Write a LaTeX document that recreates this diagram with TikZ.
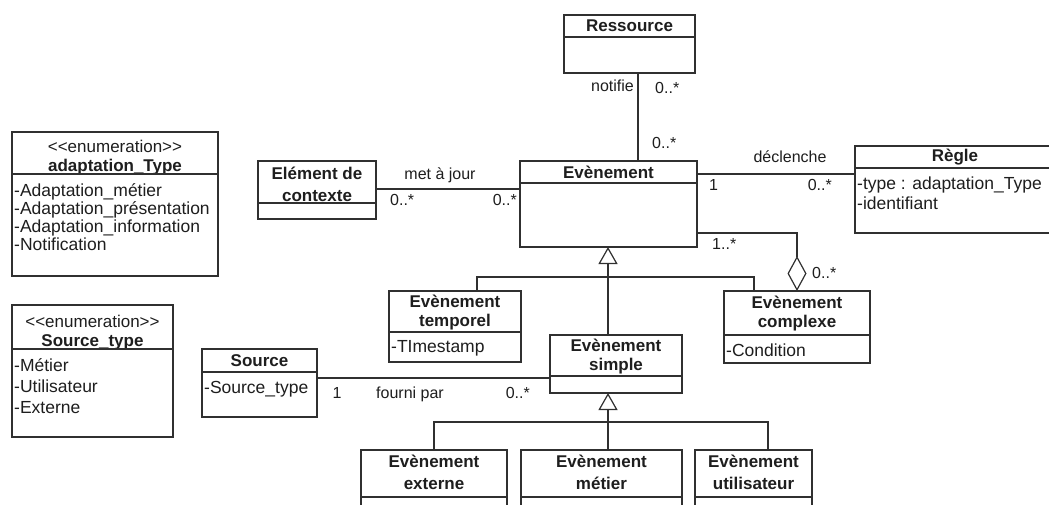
\documentclass[tikz,border=0pt]{standalone}
\usepackage{fontspec}
\setmainfont{Liberation Sans}
\usepackage{xcolor}
\definecolor{umlink}{HTML}{1E1E1E}
\definecolor{umlline}{HTML}{303030}
\usepackage{tikz}
\usetikzlibrary{positioning,arrows.meta}

\begin{document}
\begin{tikzpicture}[x=1pt, y=-1pt,
  every node/.style={text=umlink},
  clshead/.style={rectangle, draw=umlline, line width=1.2pt, outer sep=0pt, inner sep=0pt,
                  anchor=north west, align=center, font=\fontsize{17}{22}\selectfont\bfseries},
  clsbody/.style={rectangle, draw=umlline, line width=1.2pt, outer sep=0pt, inner sep=0pt},
  clsname/.style={inner sep=0pt, align=center, font=\fontsize{17}{19}\selectfont\bfseries},
  leafname/.style={clsname, font=\fontsize{17}{22}\selectfont\bfseries},
  enumname/.style={clsname, font=\fontsize{17}{19}\selectfont\bfseries},
  attr/.style={align=left, inner sep=0pt, font=\fontsize{17.5}{18}\selectfont},
  mult/.style={inner sep=0pt, text height=12pt, text depth=0pt, font=\fontsize{16}{18}\selectfont},
  link/.style={draw=umlline, line width=1.2pt},
  inherit/.style={link, -{Triangle[open, width=19pt, length=17pt]}},
  aggreg/.style={link, -{Diamond[open, width=19pt, length=35pt]}}
]
\clip (0,0) rectangle (1049,505);
\fill[white] (0,0) rectangle (1049,505);

\node[clshead, minimum width=206pt, minimum height=42pt] (atyhead) at (12,132) {};
\node[enumname, below=7.5pt of atyhead.north] (atyname)
  {{\mdseries<\kern0pt<enumeration>\kern0pt>}\\adaptation\_Type};
\node[clsbody, minimum width=206pt, minimum height=102pt, below=0pt of atyhead] (atybody) {};
\node[attr, below right=9pt and 2pt of atybody.north west] (atyattr)
  {-Adaptation\_métier\\-Adaptation\_présentation\\-Adaptation\_information\\-Notification};

\node[clshead, minimum width=161pt, minimum height=44pt] (stphead) at (12,305) {};
\node[enumname, below=10pt of stphead.north] (stpname)
  {{\mdseries<\kern0pt<enumeration>\kern0pt>}\\Source\_type};
\node[clsbody, minimum width=161pt, minimum height=88pt, below=0pt of stphead] (stpbody) {};
\node[attr, font=\fontsize{17.5}{21}\selectfont, below right=9pt and 2pt of stpbody.north west] (stpattr)
  {-Métier\\-Utilisateur\\-Externe};

\node[clshead, minimum width=131pt, minimum height=22pt] (reshead) at (564,15) {Ressource};
\node[clsbody, minimum width=131pt, minimum height=36pt, below=0pt of reshead] (resbody) {};

\node[clshead, minimum width=177pt, minimum height=22pt] (evhead) at (520,161) {Evènement};
\node[clsbody, minimum width=177pt, minimum height=64pt, below=0pt of evhead] (evbody) {};

\node[clshead, minimum width=118pt, minimum height=42pt] (ctxhead) at (258,161) {};
\node[leafname, below=5.5pt of ctxhead.north] (ctxname) {Elément de\\contexte};
\node[clsbody, minimum width=118pt, minimum height=16pt, below=0pt of ctxhead] (ctxbody) {};

\node[clshead, minimum width=200pt, minimum height=22pt] (reghead) at (855,146) {Règle};
\node[clsbody, minimum width=200pt, minimum height=65pt, below=0pt of reghead] (regbody) {};
\node[attr, font=\fontsize{17.5}{20}\selectfont, below right=8.5pt and 2pt of regbody.north west] (regattr)
  {-type : adaptation\_Type\\-identifiant};

\node[clshead, minimum width=132pt, minimum height=41pt] (tmphead) at (389,291) {};
\node[clsname, below=4pt of tmphead.north] (tmpname) {Evènement\\temporel};
\node[clsbody, minimum width=132pt, minimum height=30pt, below=0pt of tmphead] (tmpbody) {};
\node[attr, below right=8.5pt and 2pt of tmpbody.north west] (tmpattr) {-TImestamp};

\node[clshead, minimum width=132pt, minimum height=41pt] (smphead) at (550,335) {};
\node[clsname, below=4pt of smphead.north] (smpname) {Evènement\\simple};
\node[clsbody, minimum width=132pt, minimum height=17pt, below=0pt of smphead] (smpbody) {};

\node[clshead, minimum width=146pt, minimum height=44pt] (cpxhead) at (724,291) {};
\node[clsname, below=4.5pt of cpxhead.north] (cpxname) {Evènement\\complexe};
\node[clsbody, minimum width=146pt, minimum height=28pt, below=0pt of cpxhead] (cpxbody) {};
\node[attr, below right=8.5pt and 2pt of cpxbody.north west] (cpxattr) {-Condition};

\node[clshead, minimum width=115pt, minimum height=23pt] (srchead) at (202,349) {Source};
\node[clsbody, minimum width=115pt, minimum height=45pt, below=0pt of srchead] (srcbody) {};
\node[attr, below right=9pt and 2pt of srcbody.north west] (srcattr) {-Source\_type};

\node[clshead, minimum width=146pt, minimum height=47pt] (exthead) at (361,450) {};
\node[leafname, below=4.5pt of exthead.north] (extname) {Evènement\\externe};
\node[clsbody, minimum width=146pt, minimum height=30pt, below=0pt of exthead] (extbody) {};
\node[clshead, minimum width=161pt, minimum height=47pt] (mtrhead) at (521,450) {};
\node[leafname, below=4.5pt of mtrhead.north] (mtrname) {Evènement\\métier};
\node[clsbody, minimum width=161pt, minimum height=30pt, below=0pt of mtrhead] (mtrbody) {};
\node[clshead, minimum width=117pt, minimum height=47pt] (utlhead) at (695,450) {};
\node[leafname, below=4.5pt of utlhead.north] (utlname) {Evènement\\utilisateur};
\node[clsbody, minimum width=117pt, minimum height=30pt, below=0pt of utlhead] (utlbody) {};

\coordinate (notifx) at (638,0);
\coordinate (majy) at (0,189);
\coordinate (decly) at (0,174);
\coordinate (aggc) at (797,233);
\coordinate (genx) at (608,0);
\coordinate (tmpj) at (477,277);
\coordinate (cpxj) at (754,277);
\coordinate (fourny) at (0,378);
\coordinate (utilj) at (768,422);

\draw[link] (resbody.south -| notifx) -- (evhead.north -| notifx);
\draw[link] (ctxhead.east |- majy) -- (evbody.west |- majy);
\draw[link] (evhead.east |- decly) -- (regbody.west |- decly);
\draw[aggreg] (evbody.east |- aggc) -- (aggc) -- (cpxhead.north);
\draw[inherit] (smphead.north -| genx) -- (evbody.south -| genx);
\draw[link] (tmphead.north -| tmpj) -- (tmpj) -- (cpxj) -- (cpxhead.north -| cpxj);
\draw[link] (srcbody.east |- fourny) -- (smpbody.west |- fourny);
\draw[inherit] (mtrhead.north -| genx) -- (smpbody.south -| genx);
\draw[link] (exthead.north) -- (exthead.north |- utilj) -- (utilj) -- (utlhead.north -| utilj);

\node[mult, anchor=east] (notiflbl) at (634,86) {notifie};
\node[mult, anchor=west] (resmult) at (655,88) {0..*};
\node[mult, anchor=west] (evresmult) at (652,143) {0..*};
\node[mult] (majlbl) at (440,174) {met à jour};
\node[mult, anchor=west] (ctxmult) at (390,200) {0..*};
\node[mult, anchor=east] (evctxmult) at (517,200) {0..*};
\node[mult] (decllbl) at (790,157) {déclenche};
\node[mult, anchor=west] (evregmult) at (709,184) {1};
\node[mult, anchor=east] (regmult) at (832,184) {0..*};
\node[mult, anchor=west] (evcpxmult) at (712,243) {1..*};
\node[mult, anchor=west] (cpxmult) at (812,272) {0..*};
\node[mult] (srcmult) at (337,392) {1};
\node[mult] (fournlbl) at (410,392) {fourni par};
\node[mult, anchor=east] (smpmult) at (530,392) {0..*};
\end{tikzpicture}
\end{document}
